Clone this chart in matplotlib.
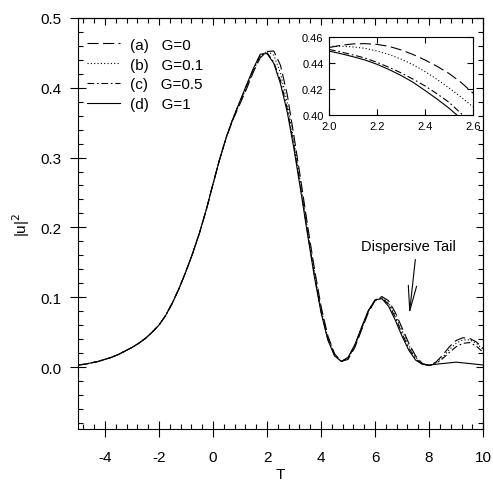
import matplotlib
matplotlib.use('Agg')
import matplotlib.pyplot as plt
import numpy as np
from matplotlib.ticker import MultipleLocator

plt.rcParams['font.family'] = ['Liberation Sans', 'DejaVu Sans']
plt.rcParams['axes.unicode_minus'] = False

# time grid of the main plot
T = np.arange(-5.0, 10.001, 0.25)

# |u|^2, one list per gain value
u2_g0 = [0.003, 0.004, 0.006, 0.008, 0.011, 0.014, 0.018, 0.023, 0.028, 0.034,
         0.041, 0.050, 0.060, 0.074, 0.092, 0.113, 0.137, 0.163, 0.192, 0.225,
         0.262, 0.298, 0.330, 0.355, 0.377, 0.399, 0.423, 0.443, 0.4518, 0.4527,
         0.432, 0.390, 0.330, 0.268, 0.203, 0.142, 0.087, 0.045, 0.019, 0.008,
         0.011, 0.028, 0.053, 0.078, 0.095, 0.101, 0.095, 0.078, 0.056, 0.034,
         0.016, 0.005, 0.002, 0.007, 0.017, 0.029, 0.038, 0.042, 0.041, 0.036,
         0.027]
u2_g01 = [0.003, 0.004, 0.006, 0.008, 0.011, 0.014, 0.018, 0.023, 0.028, 0.034,
          0.041, 0.050, 0.060, 0.074, 0.092, 0.113, 0.137, 0.163, 0.192, 0.225,
          0.262, 0.298, 0.330, 0.356, 0.379, 0.401, 0.425, 0.445, 0.4529, 0.4465,
          0.421, 0.378, 0.322, 0.261, 0.197, 0.137, 0.083, 0.042, 0.018, 0.008,
          0.012, 0.030, 0.055, 0.080, 0.096, 0.100, 0.092, 0.074, 0.052, 0.031,
          0.014, 0.005, 0.002, 0.006, 0.014, 0.025, 0.034, 0.039, 0.039, 0.034,
          0.025]
u2_g05 = [0.003, 0.004, 0.006, 0.008, 0.011, 0.014, 0.018, 0.023, 0.028, 0.034,
          0.041, 0.050, 0.060, 0.074, 0.092, 0.113, 0.137, 0.163, 0.192, 0.225,
          0.262, 0.298, 0.330, 0.357, 0.380, 0.403, 0.427, 0.447, 0.4504, 0.4367,
          0.410, 0.370, 0.316, 0.256, 0.193, 0.133, 0.080, 0.040, 0.017, 0.008,
          0.013, 0.031, 0.056, 0.080, 0.096, 0.099, 0.090, 0.071, 0.048, 0.027,
          0.012, 0.004, 0.002, 0.005, 0.012, 0.021, 0.029, 0.034, 0.035, 0.030,
          0.021]
u2_g1 = [0.003, 0.004, 0.006, 0.008, 0.011, 0.014, 0.018, 0.023, 0.028, 0.034,
         0.041, 0.050, 0.060, 0.074, 0.092, 0.113, 0.137, 0.163, 0.192, 0.225,
         0.262, 0.298, 0.330, 0.357, 0.381, 0.405, 0.428, 0.448, 0.449, 0.435,
         0.4055, 0.365, 0.312, 0.252, 0.190, 0.130, 0.078, 0.039, 0.016, 0.008,
         0.014, 0.032, 0.057, 0.081, 0.096, 0.098, 0.087, 0.067, 0.044, 0.024,
         0.010, 0.004, 0.003, 0.004, 0.005, 0.006, 0.007, 0.006, 0.005, 0.004,
         0.003]

# zoom around the peak (inset)
T_in = np.arange(2.0, 2.6001, 0.05)
in_g0 = [0.4518, 0.4535, 0.4546, 0.4548, 0.4542, 0.4527, 0.4500, 0.4465, 0.4423,
         0.4375, 0.4320, 0.4252, 0.4170]
in_g01 = [0.4529, 0.4528, 0.4523, 0.4512, 0.4492, 0.4465, 0.4430, 0.4387, 0.4335,
          0.4275, 0.4210, 0.4140, 0.4065]
in_g05 = [0.4504, 0.4484, 0.4462, 0.4438, 0.4405, 0.4367, 0.4325, 0.4277, 0.4225,
          0.4165, 0.4100, 0.4015, 0.3925]
in_g1 = [0.4491, 0.4471, 0.4448, 0.4423, 0.4390, 0.4350, 0.4305, 0.4253, 0.4190,
         0.4125, 0.4055, 0.3975, 0.3890]

labels = ['(a)   G=0', '(b)   G=0.1', '(c)   G=0.5', '(d)   G=1']
styles = [(0, (10, 4)), (0, (1, 2)), (0, (6, 2.5, 1.5, 2.5)), '-']

fig = plt.figure(figsize=(4.93, 4.85), dpi=100)
ax = fig.add_axes([0.158, 0.113, 0.822, 0.848])

for y, ls, lab in zip([u2_g0, u2_g01, u2_g05, u2_g1], styles, labels):
    ax.plot(T, y, color='black', lw=0.8, ls=ls, label=lab)

ax.set_xlim(-5, 10)
ax.set_ylim(-0.089, 0.5)
ax.xaxis.set_major_locator(MultipleLocator(2))
ax.xaxis.set_minor_locator(MultipleLocator(0.4))
ax.yaxis.set_major_locator(MultipleLocator(0.1))
ax.yaxis.set_minor_locator(MultipleLocator(0.02))
ax.yaxis.set_major_formatter(matplotlib.ticker.FormatStrFormatter('%.1f'))
ax.tick_params(which='major', direction='inout', length=12, width=0.8, labelsize=11)
ax.tick_params(axis='x', which='major', pad=9)
ax.tick_params(axis='y', which='major', pad=6)
ax.tick_params(which='minor', direction='in', length=3.5, width=0.8)

# inward ticks on top and right
secx = ax.secondary_xaxis('top')
secx.xaxis.set_major_locator(MultipleLocator(2))
secx.xaxis.set_minor_locator(MultipleLocator(0.4))
secx.tick_params(which='major', direction='in', length=5, width=0.8, labeltop=False)
secx.tick_params(which='minor', direction='in', length=3.5, width=0.8)
secy = ax.secondary_yaxis('right')
secy.yaxis.set_major_locator(MultipleLocator(0.1))
secy.yaxis.set_minor_locator(MultipleLocator(0.02))
secy.tick_params(which='major', direction='in', length=5, width=0.8, labelright=False)
secy.tick_params(which='minor', direction='in', length=3.5, width=0.8)

ax.set_xlabel('T', fontsize=11, labelpad=2)
ax.set_ylabel(r'|u|$^2$', fontsize=11, labelpad=6)

ax.legend(loc='upper left', bbox_to_anchor=(0.176, 0.920), bbox_transform=fig.transFigure,
          frameon=False, fontsize=11, handlelength=2.2, handletextpad=0.6,
          labelspacing=0.38, borderpad=0, borderaxespad=0)

ax.annotate('', xy=(7.27, 0.076), xytext=(7.49, 0.154),
            arrowprops=dict(arrowstyle='->, head_length=1.8, head_width=0.3',
                            lw=0.8, color='black', shrinkA=0, shrinkB=0))
ax.text(7.23, 0.174, 'Dispersive Tail', ha='center', va='center', fontsize=10.5)

# inset
axi = fig.add_axes([0.6675, 0.760, 0.292, 0.162])
for y, ls in zip([in_g0, in_g01, in_g05, in_g1], styles):
    axi.plot(T_in, y, color='black', lw=0.8, ls=ls)
axi.set_xlim(2.0, 2.6)
axi.set_ylim(0.40, 0.46)
axi.xaxis.set_major_locator(MultipleLocator(0.2))
axi.yaxis.set_major_locator(MultipleLocator(0.02))
axi.xaxis.set_major_formatter(matplotlib.ticker.FormatStrFormatter('%.1f'))
axi.yaxis.set_major_formatter(matplotlib.ticker.FormatStrFormatter('%.2f'))
axi.tick_params(direction='in', length=4, width=0.8, labelsize=8,
                top=True, right=True)
axi.tick_params(axis='x', pad=4)
axi.tick_params(axis='y', pad=4)

fig.savefig('out.png', dpi=100)
